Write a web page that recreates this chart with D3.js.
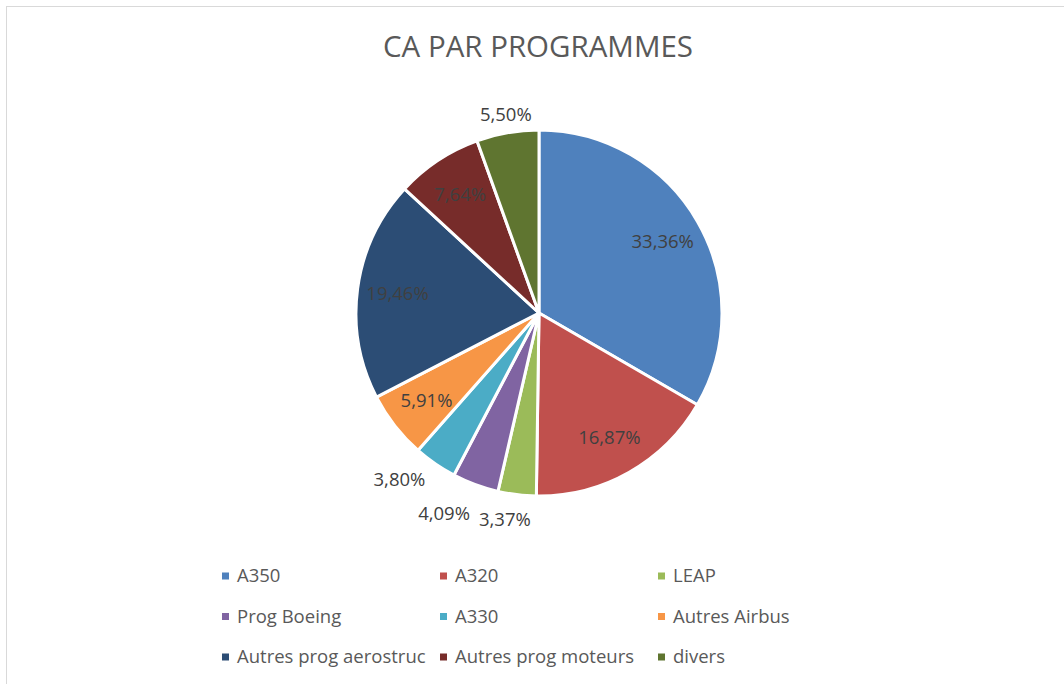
<!DOCTYPE html>
<html>
<head>
<meta charset="utf-8">
<script src="https://cdn.jsdelivr.net/npm/d3@7"></script>
<style>
  html, body { margin: 0; padding: 0; background: #fff; }
  svg { display: block; }
  text { font-family: "Open Sans", sans-serif; }
</style>
</head>
<body>
<svg id="chart" width="1064" height="684"></svg>
<script>
// chart data
const categories = ['A350', 'A320', 'LEAP', 'Prog Boeing', 'A330', 'Autres Airbus',
  'Autres prog aerostruc', 'Autres prog moteurs', 'divers'];
const shares = [33.36, 16.87, 3.37, 4.09, 3.80, 5.91, 19.46, 7.64, 5.50];
const colors = ['#4F81BD', '#C0504D', '#9BBB59', '#8064A2', '#4BACC6', '#F79646',
  '#2C4D75', '#772C2A', '#5F7530'];

// where Excel's "best fit" put the small labels: radius offset, angle nudge (deg)
const outsideLabels = {
  'LEAP': [26, 2.5],
  'Prog Boeing': [39, 5],
  'A330': [34, 5.5],
  'divers': [18, 0.4]
};

const svg = d3.select('#chart');
const width = 1064;
const cx = 539, cy = 313, radius = 183;

const format = v => d3.format('.2f')(v).replace('.', ',') + '%';
const color = d3.scaleOrdinal().domain(categories).range(colors);

// chart area border
svg.append('rect')
  .attr('x', 6.5).attr('y', 6.5)
  .attr('width', 1100).attr('height', 700)
  .attr('fill', 'none')
  .attr('stroke', '#d9d9d9');

svg.append('text')
  .attr('x', width / 2 + 6)
  .attr('y', 57)
  .attr('text-anchor', 'middle')
  .attr('fill', '#595959')
  .style('font-size', '29.5px')
  .text('CA PAR PROGRAMMES');

const data = categories.map((c, i) => ({ name: c, value: shares[i] }));

const pie = d3.pie().sort(null).value(d => d.value);
const arcs = pie(data);
const arc = d3.arc().innerRadius(0).outerRadius(radius);
const labelArc = d3.arc().innerRadius(radius * 0.78).outerRadius(radius * 0.78);

const g = svg.append('g').attr('transform', `translate(${cx},${cy})`);

g.selectAll('path')
  .data(arcs)
  .enter()
  .append('path')
  .attr('d', arc)
  .attr('fill', d => color(d.data.name))
  .attr('stroke', '#fff')
  .attr('stroke-width', 3)
  .attr('stroke-linejoin', 'round');

g.selectAll('text.lbl')
  .data(arcs)
  .enter()
  .append('text')
  .attr('class', 'lbl')
  .attr('transform', d => {
    const o = outsideLabels[d.data.name];
    if (!o) return `translate(${labelArc.centroid(d)})`;
    const a = (d.startAngle + d.endAngle) / 2 + o[1] * Math.PI / 180;
    const rr = radius + o[0];
    return `translate(${rr * Math.sin(a)},${-rr * Math.cos(a)})`;
  })
  .attr('text-anchor', 'middle')
  .attr('dy', '0.35em')
  .attr('fill', '#404040')
  .style('font-size', '18.5px')
  .text(d => format(d.data.value));

// legend: 3 columns x 3 rows
const colX = d3.scalePoint().domain([0, 1, 2]).range([222, 658]);
const rowY = d3.scalePoint().domain([0, 1, 2]).range([576, 657]);

const item = svg.append('g')
  .selectAll('g')
  .data(categories)
  .enter()
  .append('g')
  .attr('transform', (d, i) => `translate(${colX(i % 3)},${rowY(Math.floor(i / 3))})`);

item.append('rect')
  .attr('x', 0).attr('y', -3.5)
  .attr('width', 7).attr('height', 7)
  .attr('fill', d => color(d));

item.append('text')
  .attr('x', 15)
  .attr('dy', '0.35em')
  .attr('fill', '#595959')
  .style('font-size', '18.5px')
  .text(d => d);
</script>
</body>
</html>
